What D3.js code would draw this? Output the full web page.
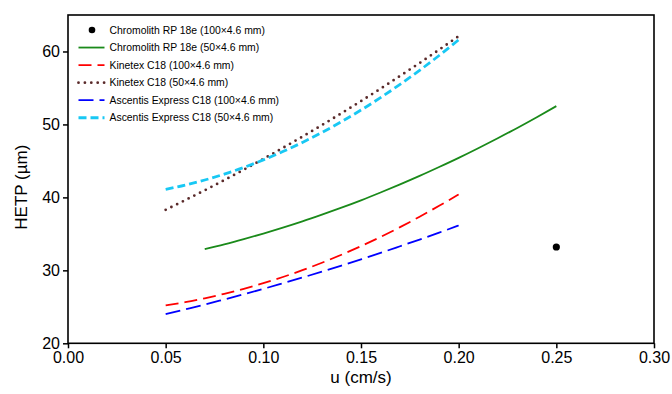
<!DOCTYPE html>
<html><head><meta charset="utf-8">
<script src="https://cdn.jsdelivr.net/npm/d3@7"></script>
<style>body{margin:0;background:#fff;}svg{display:block;font-family:"Liberation Sans",Arial,sans-serif;}</style>
</head><body>
<svg id="chart" width="672" height="394"></svg>
<script>
const xTicks = [0.00, 0.05, 0.10, 0.15, 0.20, 0.25, 0.30];
const yTicks = [20, 30, 40, 50, 60];
const xTitle = "u (cm/s)";
const yTitle = "HETP (\u00b5m)";

const uChromo100 = [0.25];
const hChromo100 = [33.2];

const uChromo50 = [0.07,0.08,0.09,0.10,0.11,0.12,0.13,0.14,0.15,0.16,0.17,0.18,0.19,0.20,0.21,0.22,0.23,0.24,0.25];
const hChromo50 = [32.90,33.56,34.28,35.04,35.85,36.71,37.63,38.59,39.60,40.67,41.78,42.94,44.16,45.42,46.74,48.11,49.52,50.99,52.51];

const uShort = [0.05,0.06,0.07,0.08,0.09,0.10,0.11,0.12,0.13,0.14,0.15,0.16,0.17,0.18,0.19,0.20];
const hKinetex100 = [25.20,25.64,26.17,26.78,27.47,28.24,29.09,30.02,31.04,32.14,33.32,34.58,35.92,37.35,38.85,40.40];
const hKinetex50  = [38.30,39.62,40.97,42.37,43.80,45.27,46.78,48.33,49.91,51.54,53.20,54.90,56.65,58.42,60.24,62.10];
const hAscentis100 = [24.00,24.65,25.31,26.01,26.72,27.46,28.23,29.01,29.82,30.65,31.51,32.39,33.30,34.22,35.17,36.15];
const hAscentis50  = [41.10,41.68,42.38,43.19,44.10,45.14,46.28,47.53,48.90,50.38,51.97,53.67,55.49,57.41,59.45,61.60];

const seriesNames = [
  "Chromolith RP 18e (100\u00d74.6 mm)",
  "Chromolith RP 18e (50\u00d74.6 mm)",
  "Kinetex C18 (100\u00d74.6 mm)",
  "Kinetex C18 (50\u00d74.6 mm)",
  "Ascentis Express C18 (100\u00d74.6 mm)",
  "Ascentis Express C18 (50\u00d74.6 mm)"
];

const styles = [
  {type:"dot", color:"#000000"},
  {type:"line", color:"#1a8a1a", width:1.8, dash:null, cap:"butt"},
  {type:"line", color:"#ff0000", width:1.8, dash:"13,6", cap:"butt"},
  {type:"line", color:"#5a2a2a", width:2.8, dash:"0,6.4", cap:"round"},
  {type:"line", color:"#0000ff", width:1.8, dash:"15,6", cap:"butt"},
  {type:"line", color:"#18c8f4", width:2.8, dash:"8,4", cap:"butt"}
];

const seriesData = [
  uChromo100.map((u,i)=>[u,hChromo100[i]]),
  uChromo50.map((u,i)=>[u,hChromo50[i]]),
  uShort.map((u,i)=>[u,hKinetex100[i]]),
  uShort.map((u,i)=>[u,hKinetex50[i]]),
  uShort.map((u,i)=>[u,hAscentis100[i]]),
  uShort.map((u,i)=>[u,hAscentis50[i]])
];

const svg = d3.select("#chart");
const L = 68, R = 654, T = 15, B = 343.3;
const x = d3.scaleLinear().domain([0, 0.30]).range([L, R]);
const y = d3.scaleLinear().domain([20, 65]).range([B, T]);

const gx = svg.append("g").attr("transform", `translate(0,${B})`)
  .call(d3.axisBottom(x).tickValues(xTicks).tickFormat(d3.format(".2f")).tickSize(5).tickPadding(3));
const gy = svg.append("g").attr("transform", `translate(${L},0)`)
  .call(d3.axisLeft(y).tickValues(yTicks).tickFormat(d3.format("d")).tickSize(5).tickPadding(3));
[gx, gy].forEach(g => {
  g.select(".domain").remove();
  g.selectAll("line").attr("stroke", "#000").attr("stroke-width", 1.5);
  g.selectAll("text").attr("fill", "#000").style("font-size", "16px").style("font-family", '"Liberation Sans",Arial,sans-serif');
});

svg.append("rect").attr("x", L).attr("y", T).attr("width", R - L).attr("height", B - T)
  .attr("fill", "none").attr("stroke", "#000").attr("stroke-width", 1.6);

svg.append("text").attr("x", (L + R) / 2).attr("y", 383).attr("text-anchor", "middle")
  .style("font-size", "17px").text(xTitle);
svg.append("text").attr("transform", `translate(27,${(T + B) / 2 + 8}) rotate(-90)`).attr("text-anchor", "middle")
  .style("font-size", "17px").text(yTitle);

const line = d3.line().x(d => x(d[0])).y(d => y(d[1])).curve(d3.curveMonotoneX);
seriesData.forEach((data, i) => {
  const s = styles[i];
  if (s.type === "dot") {
    svg.append("g").selectAll("circle").data(data).join("circle")
      .attr("cx", d => x(d[0])).attr("cy", d => y(d[1])).attr("r", 3.6).attr("fill", s.color);
  } else {
    svg.append("path").datum(data).attr("d", line).attr("fill", "none")
      .attr("stroke", s.color).attr("stroke-width", s.width)
      .attr("stroke-dasharray", s.dash).attr("stroke-linecap", s.cap);
  }
});

const lg = svg.append("g");
seriesNames.forEach((name, i) => {
  const s = styles[i];
  const cy = 30 + i * 17.55;
  if (s.type === "dot") {
    lg.append("circle").attr("cx", 92).attr("cy", cy).attr("r", 3.3).attr("fill", s.color);
  } else {
    lg.append("line").attr("x1", 78.5).attr("x2", 104.5).attr("y1", cy).attr("y2", cy)
      .attr("stroke", s.color).attr("stroke-width", s.width)
      .attr("stroke-dasharray", s.dash).attr("stroke-linecap", s.cap);
  }
  lg.append("text").attr("x", 109.5).attr("y", cy + 3.7).style("font-size", "10.4px").text(name);
});
</script>
</body></html>
